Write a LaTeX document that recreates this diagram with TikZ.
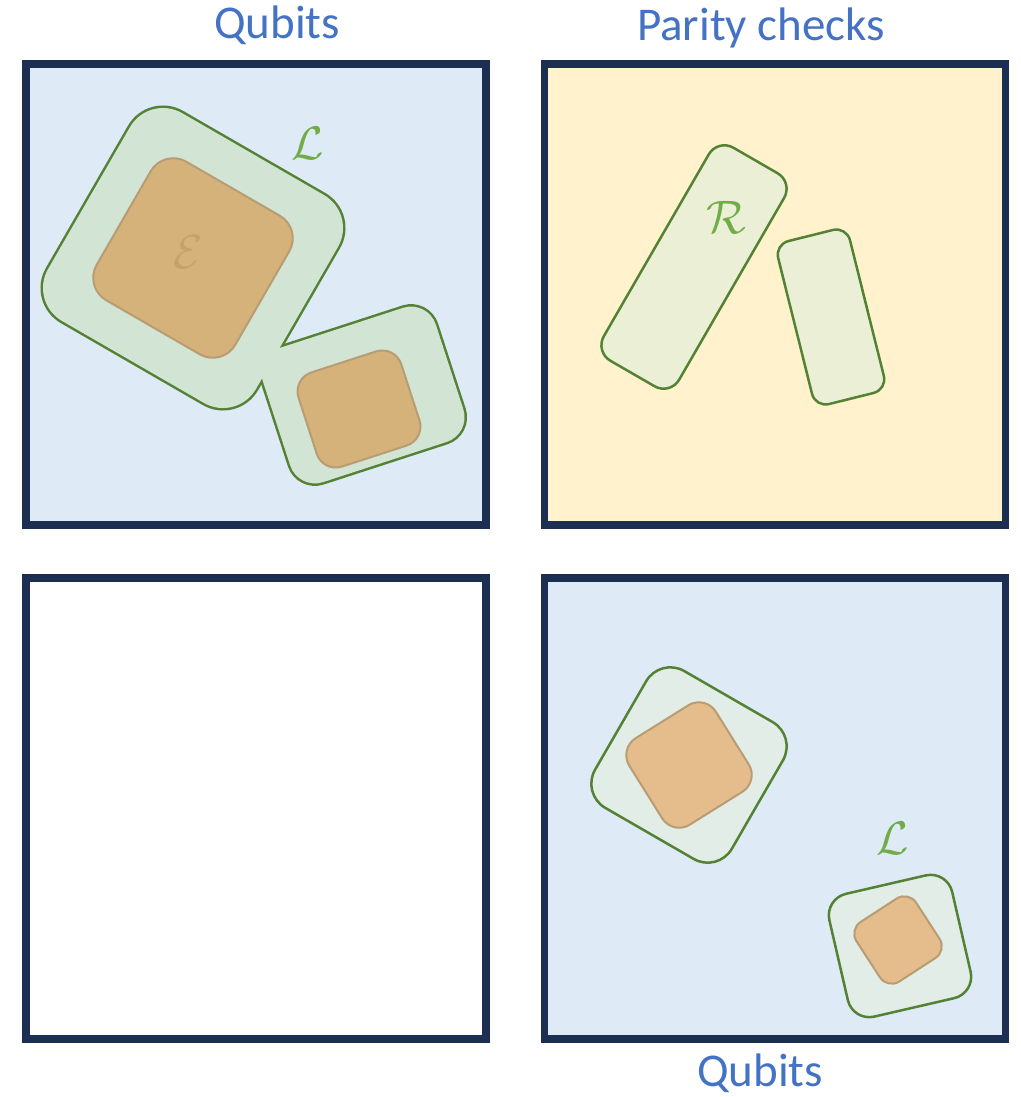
\documentclass[tikz,border=0pt]{standalone}
\usepackage{fix-cm}
\usepackage{fontspec}
\setmainfont{Carlito}

\definecolor{navy}{HTML}{1C2E52}
\definecolor{titleblue}{HTML}{4472C4}
\definecolor{qblue}{HTML}{DEEAF6}
\definecolor{pyellow}{HTML}{FFF2CC}
\definecolor{lgreen}{HTML}{548235}
\definecolor{lblgreen}{HTML}{70AD47}
\definecolor{lfill}{HTML}{D2E4D3}
\definecolor{lfilllight}{HTML}{E1EDE6}
\definecolor{cfill}{HTML}{EBEFD5}
\definecolor{efill}{HTML}{D5B27A}
\definecolor{efilllight}{HTML}{E5BC8C}
\definecolor{ebrown}{HTML}{B89C74}
\definecolor{elabel}{HTML}{C5A368}

\begin{document}
\begin{tikzpicture}[
    x=1pt, y=-1pt,
    font=\fontsize{47}{56}\selectfont,
    panel/.style={rectangle, draw=navy, line width=7.5pt, minimum width=460pt, minimum height=461pt, inner sep=0pt},
    title/.style={text=titleblue, anchor=base, inner sep=0pt},
    logical/.style={rectangle, draw=lgreen, line width=2.5pt, inner sep=0pt},
    lcover/.style={rectangle, fill=lfill, inner sep=0pt},
    err/.style={rectangle, draw=ebrown, line width=2pt, inner sep=0pt},
    check/.style={rectangle, draw=lgreen, fill=cfill, line width=2.5pt, inner sep=0pt},
    sym/.style={text=lblgreen, inner sep=0pt}
]
\useasboundingbox (0,0) rectangle (1020,1097);

% Panels
\node[panel, fill=qblue] (qtop) at (256,294.5) {};
\node[panel, fill=pyellow, minimum width=461pt] (checks) at (775,294.5) {};
\node[panel, fill=white] (empty) at (256,808.5) {};
\node[panel, fill=qblue, minimum width=461pt] (qbot) at (775,808.5) {};

% Titles
\node[title] (qtoplbl) at (277,39) {Qubits};
\node[title] (checkslbl) at (761,41) {Parity checks};
\node[title] (qbotlbl) at (760,1086) {Qubits};

% Top left: merged logical region
\node[logical, line width=5pt, minimum size=240pt, rounded corners=38pt, rotate=-30] (Lbig) at (193,258) {};
\node[logical, line width=5pt, minimum width=182pt, minimum height=141pt, rounded corners=26pt, rotate=18] (Lsmall) at (363,395) {};
\node[lcover, minimum size=240pt, rounded corners=38pt, rotate=-30] (Lbigin) at (Lbig.center) {};
\node[lcover, minimum width=182pt, minimum height=141pt, rounded corners=26pt, rotate=18] (Lsmallin) at (Lsmall.center) {};
\node[err, fill=efill, minimum size=160pt, rounded corners=26pt, rotate=-30] (Ebig) at (193,258) {};
\node[err, fill=efill, minimum width=108pt, minimum height=99pt, rounded corners=20pt, rotate=18] (Esmall) at (359,409) {};
\node[inner sep=0pt, text=elabel, font=\fontsize{48}{56}\selectfont] (Elbl) at (188,252) {$\mathcal{E}$};
\node[sym] (Ltoplbl) at (308,143) {$\mathcal{L}$};

% Top right: checks
\node[check, minimum width=87pt, minimum height=246pt, rounded corners=18pt, rotate=-30] (R1) at (694,267) {};
\node[check, minimum width=74pt, minimum height=168pt, rounded corners=14pt, rotate=14] (R2) at (831,317) {};
\node[sym] (Rlbl) at (726,217) {$\mathcal{R}$};

% Bottom right
\node[logical, fill=lfilllight, minimum size=158pt, rounded corners=28pt, rotate=-30] (L1) at (689,765) {};
\node[err, fill=efilllight, minimum size=102pt, rounded corners=20pt, rotate=32] (E1) at (689,765) {};
\node[logical, fill=lfilllight, minimum size=126pt, rounded corners=22pt, rotate=13] (L2) at (900,946) {};
\node[err, fill=efilllight, minimum size=71pt, rounded corners=14pt, rotate=33] (E2) at (898,940) {};
\node[sym] (Lbotlbl) at (893,838) {$\mathcal{L}$};

\end{tikzpicture}
\end{document}
